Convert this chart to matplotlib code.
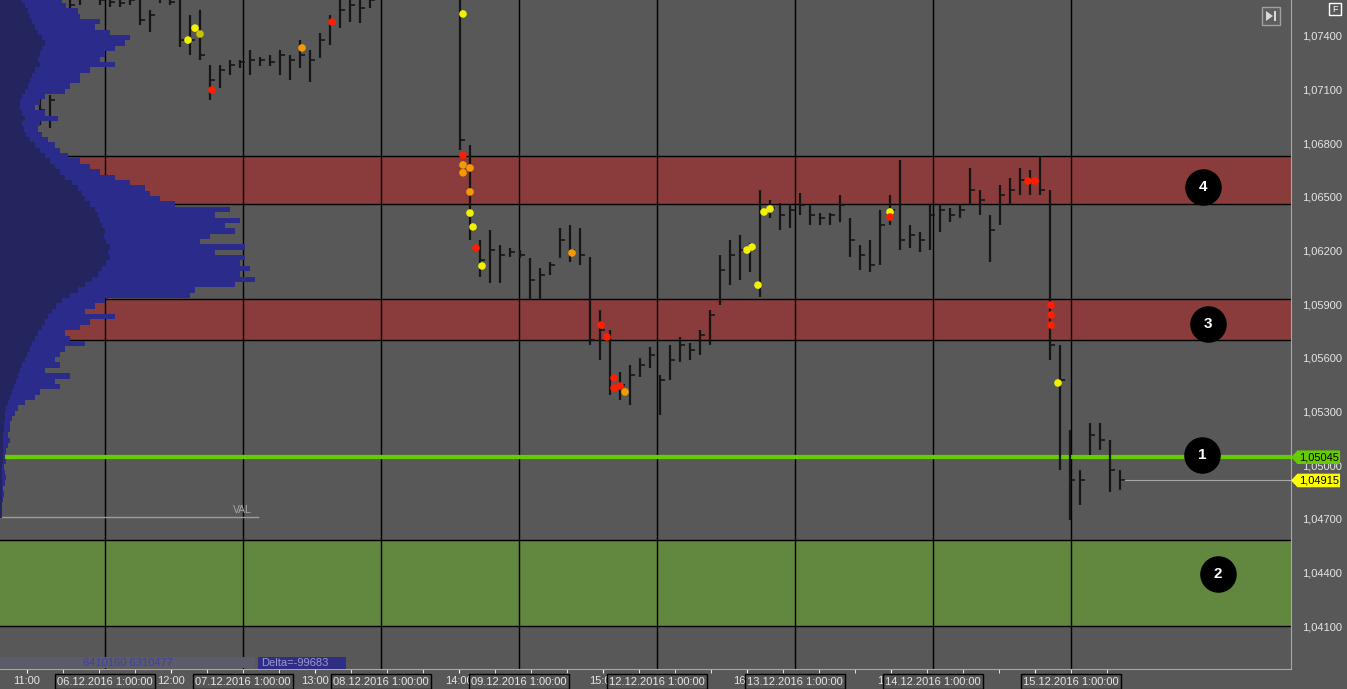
import matplotlib
matplotlib.use("Agg")
import matplotlib.pyplot as plt
import numpy as np
from matplotlib import transforms
from matplotlib.patches import Polygon, Rectangle

nan = float("nan")

# ---- price bars (one slot per bar, NaN = empty slot) ----
bar_high = [
    1.07070, 1.07070, nan, 1.07629, 1.07657, 1.07657, 1.07646, 1.07629, 1.07629, 1.07629,
    1.07618, 1.07545, 1.07657, 1.07646, 1.07601, 1.07517, 1.07545, 1.07238, 1.07238, 1.07266,
    1.07266, 1.07322, 1.07282, 1.07294, 1.07322, 1.07294, 1.07377, 1.07322, 1.07417, 1.07517,
    1.07629, 1.07629, 1.07629, 1.07629, 1.07713, 1.07713, 1.07713, 1.07713, 1.07713, 1.07713,
    1.07713, 1.07713, 1.07629, 1.06790, 1.06259, 1.06315, 1.06231, 1.06215, 1.06203, 1.06159,
    1.06103, 1.06136, 1.06326, 1.06343, 1.06326, 1.06164, 1.05868, 1.05756, 1.05521, 1.05560,
    1.05600, 1.05661, 1.05505, 1.05672, 1.05717, 1.05683, 1.05756, 1.05868, 1.06175, 1.06259,
    1.06287, 1.06242, 1.06539, 1.06483, 1.06466, 1.06455, 1.06522, 1.06455, 1.06410, 1.06410,
    1.06511, 1.06382, 1.06231, 1.06259, 1.06427, 1.06511, 1.06706, 1.06343, 1.06304, 1.06455,
    1.06455, 1.06438, 1.06455, 1.06662, 1.06539, 1.06399, 1.06567, 1.06606, 1.06662, 1.06651,
    1.06723, 1.06539, 1.05672, 1.05197, 1.04974, 1.05236, 1.05236, 1.05141, 1.04974,
]
bar_low = [
    1.06902, 1.06885, nan, 1.07489, 1.07573, 1.07601, 1.07573, 1.07562, 1.07562, 1.07573,
    1.07461, 1.07422, 1.07584, 1.07573, 1.07338, 1.07294, 1.07266, 1.07042, 1.07109, 1.07182,
    1.07221, 1.07182, 1.07232, 1.07232, 1.07182, 1.07154, 1.07221, 1.07143, 1.07277, 1.07349,
    1.07444, 1.07478, 1.07472, 1.07556, 1.07618, 1.07618, 1.07618, 1.07618, 1.07618, 1.07618,
    1.07618, 1.07618, 1.06762, 1.06259, 1.06052, 1.06019, 1.06019, 1.06164, 1.06159, 1.05923,
    1.05923, 1.06063, 1.06159, 1.06136, 1.06119, 1.05672, 1.05588, 1.05393, 1.05365, 1.05337,
    1.05494, 1.05544, 1.05281, 1.05477, 1.05577, 1.05588, 1.05616, 1.05672, 1.05896, 1.06007,
    1.06035, 1.06080, 1.05941, 1.06382, 1.06315, 1.06326, 1.06399, 1.06343, 1.06343, 1.06343,
    1.06360, 1.06164, 1.06091, 1.06080, 1.06119, 1.06343, 1.06203, 1.06215, 1.06192, 1.06203,
    1.06304, 1.06360, 1.06382, 1.06455, 1.06399, 1.06136, 1.06343, 1.06455, 1.06511, 1.06511,
    1.06511, 1.05588, 1.04974, 1.04694, 1.04778, 1.05057, 1.05085, 1.04851, 1.04862,
]
bar_close = [
    1.06986, 1.07042, nan, 1.07573, 1.07612, 1.07629, 1.07601, 1.07590, 1.07584, 1.07601,
    1.07489, 1.07517, 1.07612, 1.07590, 1.07377, 1.07377, 1.07294, 1.07154, 1.07210, 1.07238,
    1.07254, 1.07266, 1.07266, 1.07254, 1.07294, 1.07266, 1.07294, 1.07266, 1.07377, 1.07489,
    1.07545, 1.07573, 1.07556, 1.07601, 1.07657, 1.07657, 1.07657, 1.07657, 1.07657, 1.07657,
    1.07657, 1.07657, 1.06818, 1.06315, 1.06147, 1.06203, 1.06175, 1.06192, 1.06175, 1.06035,
    1.06063, 1.06119, 1.06259, 1.06203, 1.06175, 1.05700, 1.05756, 1.05477, 1.05449, 1.05505,
    1.05560, 1.05616, 1.05477, 1.05588, 1.05672, 1.05644, 1.05728, 1.05840, 1.06091, 1.06175,
    1.06203, 1.06203, 1.06427, 1.06438, 1.06399, 1.06427, 1.06455, 1.06399, 1.06382, 1.06399,
    1.06455, 1.06259, 1.06175, 1.06119, 1.06343, 1.06427, 1.06259, 1.06287, 1.06259, 1.06399,
    1.06427, 1.06399, 1.06427, 1.06539, 1.06483, 1.06315, 1.06511, 1.06539, 1.06595, 1.06584,
    1.06539, 1.05672, 1.05477, 1.04917, 1.04917, 1.05169, 1.05141, 1.04974, 1.04915,
]

# ---- big trade markers (bar slot, price, kind) ----
dot_bar = [14.8, 15.5, 16.0, 17.2, 26.2, 29.2, 42.3, 42.3, 42.3, 42.3, 43.0, 43.0, 43.0,
           43.3, 43.6, 44.2, 53.2, 56.1, 56.7, 57.4, 57.4, 58.0, 58.5, 70.7, 71.2, 71.8,
           72.4, 73.0, 85.0, 85.0, 98.8, 99.5, 101.1, 101.1, 101.1, 101.8]
dot_price = [1.07377, 1.07444, 1.07411, 1.07098, 1.07333, 1.07478, 1.07523, 1.06734, 1.06679,
             1.06635, 1.06662, 1.06528, 1.06410, 1.06332, 1.06215, 1.06114, 1.06187, 1.05784,
             1.05717, 1.05488, 1.05432, 1.05443, 1.05410, 1.06203, 1.06220, 1.06007, 1.06416,
             1.06433, 1.06416, 1.06388, 1.06589, 1.06589, 1.05896, 1.05840, 1.05784, 1.05460]
dot_kind = ["yellow", "yellow", "olive", "red", "orange", "red", "yellow", "red", "orange",
            "orange", "orange", "orange", "yellow", "yellow", "red", "yellow", "orange", "red",
            "red", "red", "red", "red", "orange", "yellow", "yellow", "yellow", "yellow",
            "yellow", "yellow", "red", "red", "red", "red", "red", "red", "yellow"]

# ---- volume profile (levels every 0.0003 from 1.0760 down) ----
profile_top = 1.0760
profile_step = 0.0003
profile_volume = [
    62, 66, 78, 80, 100, 95, 110, 130, 125, 115,
    105, 100, 115, 90, 80, 80, 70, 65, 45, 40,
    35, 45, 58, 40, 38, 42, 48, 55, 60, 68,
    80, 90, 100, 115, 130, 145, 150, 160, 175, 230,
    215, 240, 225, 235, 210, 200, 245, 215, 245, 240,
    250, 240, 255, 235, 195, 190, 105, 95, 85, 115,
    90, 80, 65, 70, 85, 65, 60, 55, 60, 45,
    70, 55, 60, 40, 35, 25, 18, 15, 12, 10,
    10, 8, 10, 8, 6, 5, 6, 4, 5, 6,
    5, 3, 4, 3, 2, 2, 2,
]
profile_inner = [
    22, 25, 28, 30, 32, 35, 38, 42, 45, 42,
    40, 38, 40, 35, 32, 30, 28, 25, 22, 20,
    20, 22, 25, 22, 24, 26, 30, 35, 40, 45,
    50, 55, 60, 65, 72, 78, 82, 85, 90, 95,
    98, 100, 102, 105, 104, 106, 110, 108, 110, 106,
    102, 98, 92, 85, 78, 70, 62, 56, 52, 48,
    45, 42, 38, 35, 32, 30, 27, 25, 22, 20,
    18, 16, 14, 12, 10, 8, 6, 5, 5, 4,
    4, 3, 3, 3, 3, 3, 3, 2, 2, 2,
    2, 2, 2, 2, 2, 2, 2,
]

# ---- levels / zones ----
resistance_zones = [(1.06459, 1.06727), (1.05698, 1.05928)]
support_zone = (1.04100, 1.04581)
key_level = 1.05045
last_price = 1.04915
val_level = 1.04711
zone_numbers = ["4", "3", "1", "2"]
zone_label_prices = [1.06557, 1.05791, 1.05057, 1.04392]

price_ticks = [1.041, 1.044, 1.047, 1.050, 1.053, 1.056, 1.059, 1.062, 1.065, 1.068, 1.071, 1.074]
hour_labels = ["11:00", "12:00", "13:00", "14:00", "15:00", "16:00", "17:00", "18:00"]
day_labels = ["06.12.2016 1:00:00", "07.12.2016 1:00:00", "08.12.2016 1:00:00",
              "09.12.2016 1:00:00", "12.12.2016 1:00:00", "13.12.2016 1:00:00",
              "14.12.2016 1:00:00", "15.12.2016 1:00:00"]

BG = "#585858"
RED_ZONE = "#8a3b3b"
GREEN_ZONE = "#62873e"
PROFILE = "#2b2b8c"
PROFILE_DARK = "#24245e"
DOT_COLORS = {"yellow": "#f2f200", "olive": "#c9c400", "orange": "#f59a00", "red": "#ff1e00"}
TEXT = "#e6e6e6"

plt.rcParams["font.family"] = ["Liberation Sans", "DejaVu Sans"]

fig = plt.figure(figsize=(13.47, 6.89), dpi=100, facecolor=BG)
ax = fig.add_axes([0, 20 / 689, 1291 / 1347, 669 / 689])
ax.set_facecolor(BG)
ax.set_xlim(-4.0, 125.1)
ax.set_ylim(1.03861, 1.07601)

# zones
for lo, hi in resistance_zones:
    ax.axhspan(lo, hi, color=RED_ZONE, lw=0, zorder=1)
ax.axhspan(*support_zone, color=GREEN_ZONE, lw=0, zorder=1)
for lo, hi in resistance_zones + [support_zone]:
    ax.axhline(lo, color="black", lw=1, zorder=2)
    ax.axhline(hi, color="black", lw=1, zorder=2)

# day separators
day_pos = 6.5 + 13.8 * np.arange(len(day_labels))
for x in day_pos:
    ax.axvline(x, color="black", lw=1, zorder=2)

# key level, VAL, last price
ax.axhline(key_level, color="#66cc00", lw=3, zorder=3)
ax.axhline(val_level, xmin=0, xmax=0.2, color="#9c9c9c", lw=1, zorder=3)
ax.text(0.195, val_level + 0.0001, "VAL", transform=transforms.blended_transform_factory(ax.transAxes, ax.transData),
        ha="right", va="bottom", fontsize=7.5, color="#a8a8a8", zorder=3)

# price bars
idx = np.arange(len(bar_high))
ax.vlines(idx, bar_low, bar_high, color="#151515", lw=1.6, zorder=4)
ax.hlines(bar_close, idx, idx + 0.45, color="#151515", lw=1.2, zorder=4)
ax.hlines(last_price, idx[-1], 125.1, color="#a8a8a8", lw=0.8, zorder=3)

# big trades
ax.scatter(dot_bar, dot_price, s=30, c=[DOT_COLORS[k] for k in dot_kind], edgecolors="none", zorder=5)

# numbered zone markers
label_x = [116.3, 116.8, 116.2, 117.8]
ax.scatter(label_x, zone_label_prices, s=640, c="black", zorder=6)
for x, p, t in zip(label_x, zone_label_prices, zone_numbers):
    ax.text(x, p, t, ha="center", va="center", color="white", fontsize=11, fontweight="bold", zorder=7)

# axes styling
for side in ["left", "top"]:
    ax.spines[side].set_visible(False)
for side in ["bottom", "right"]:
    ax.spines[side].set_color("#a8a8a8")
ax.yaxis.tick_right()
ax.set_yticks(price_ticks)
ax.set_yticklabels([f"{v:.5f}".replace(".", ",") for v in price_ticks])
ax.tick_params(axis="y", length=0, pad=8, labelcolor=TEXT, labelsize=8)

hour_pos = -1.3 + 3.6 * np.arange(31)
ax.set_xticks(hour_pos[::4], hour_labels)
ax.set_xticks(hour_pos, minor=True)
ax.tick_params(axis="x", which="both", length=3, color="white", pad=2, labelcolor=TEXT, labelsize=8)

xdata_yaxes = transforms.blended_transform_factory(ax.transData, ax.transAxes)
for x, lab in zip(day_pos, day_labels):
    ax.text(x, -0.019, lab, transform=xdata_yaxes, ha="center", va="center", fontsize=8, color=TEXT,
            clip_on=False, zorder=8,
            bbox=dict(boxstyle="square,pad=0.2", fc="#565656", ec="black", lw=1))

# price tags on the right scale
yaxes = transforms.blended_transform_factory(ax.transAxes, ax.transData)
for p, txt, col in [(key_level, "1,05045", "#66cc00"), (last_price, "1,04915", "#ffff00")]:
    h = 0.00038
    tag = Polygon([(1.0, p), (1.005, p + h), (1.038, p + h), (1.038, p - h), (1.005, p - h)],
                  closed=True, transform=yaxes, fc=col, ec="none", clip_on=False, zorder=9)
    ax.add_patch(tag)
    ax.text(1.0065, p, txt, transform=yaxes, ha="left", va="center", fontsize=8, color="black",
            clip_on=False, zorder=10)

# volume profile
axp = ax.twiny()
axp.set_xlim(0, 1291)
levels = profile_top - profile_step * np.arange(len(profile_volume))
axp.barh(levels, profile_volume, height=profile_step, color=PROFILE, lw=0)
axp.barh(levels, profile_inner, height=profile_step, color=PROFILE_DARK, lw=0)
axp.axis("off")

# interface bits (pixel overlay)
ui = fig.add_axes([0, 0, 1, 1])
ui.set_xlim(0, 1347)
ui.set_ylim(689, 0)
ui.axis("off")
ui.add_patch(Rectangle((0, 657), 255, 11, fc="#5b5b6c", ec="none"))
ui.text(83, 663, "6410160 6310477", fontsize=8, color="#4040a8", va="center", ha="left")
ui.add_patch(Rectangle((258, 657), 88, 12, fc="#2e2e84", ec="none"))
ui.text(261, 663, "Delta=-99683", fontsize=8, color="#9a9ad2", va="center", ha="left")
ui.add_patch(Rectangle((1329, 3), 12, 12, fc="none", ec="white", lw=1))
ui.text(1335, 9.5, "F", fontsize=6.5, color="white", ha="center", va="center")
ui.add_patch(Rectangle((1262, 7), 18, 18, fc="#5e5e5e", ec="#a0a0a0", lw=1))
ui.add_patch(Polygon([(1266, 11), (1266, 21), (1273, 16)], closed=True, fc="#d8d8d8", ec="none"))
ui.add_patch(Rectangle((1274, 11), 2, 10, fc="#d8d8d8", ec="none"))

fig.savefig("out.png", dpi=100, facecolor=BG)
